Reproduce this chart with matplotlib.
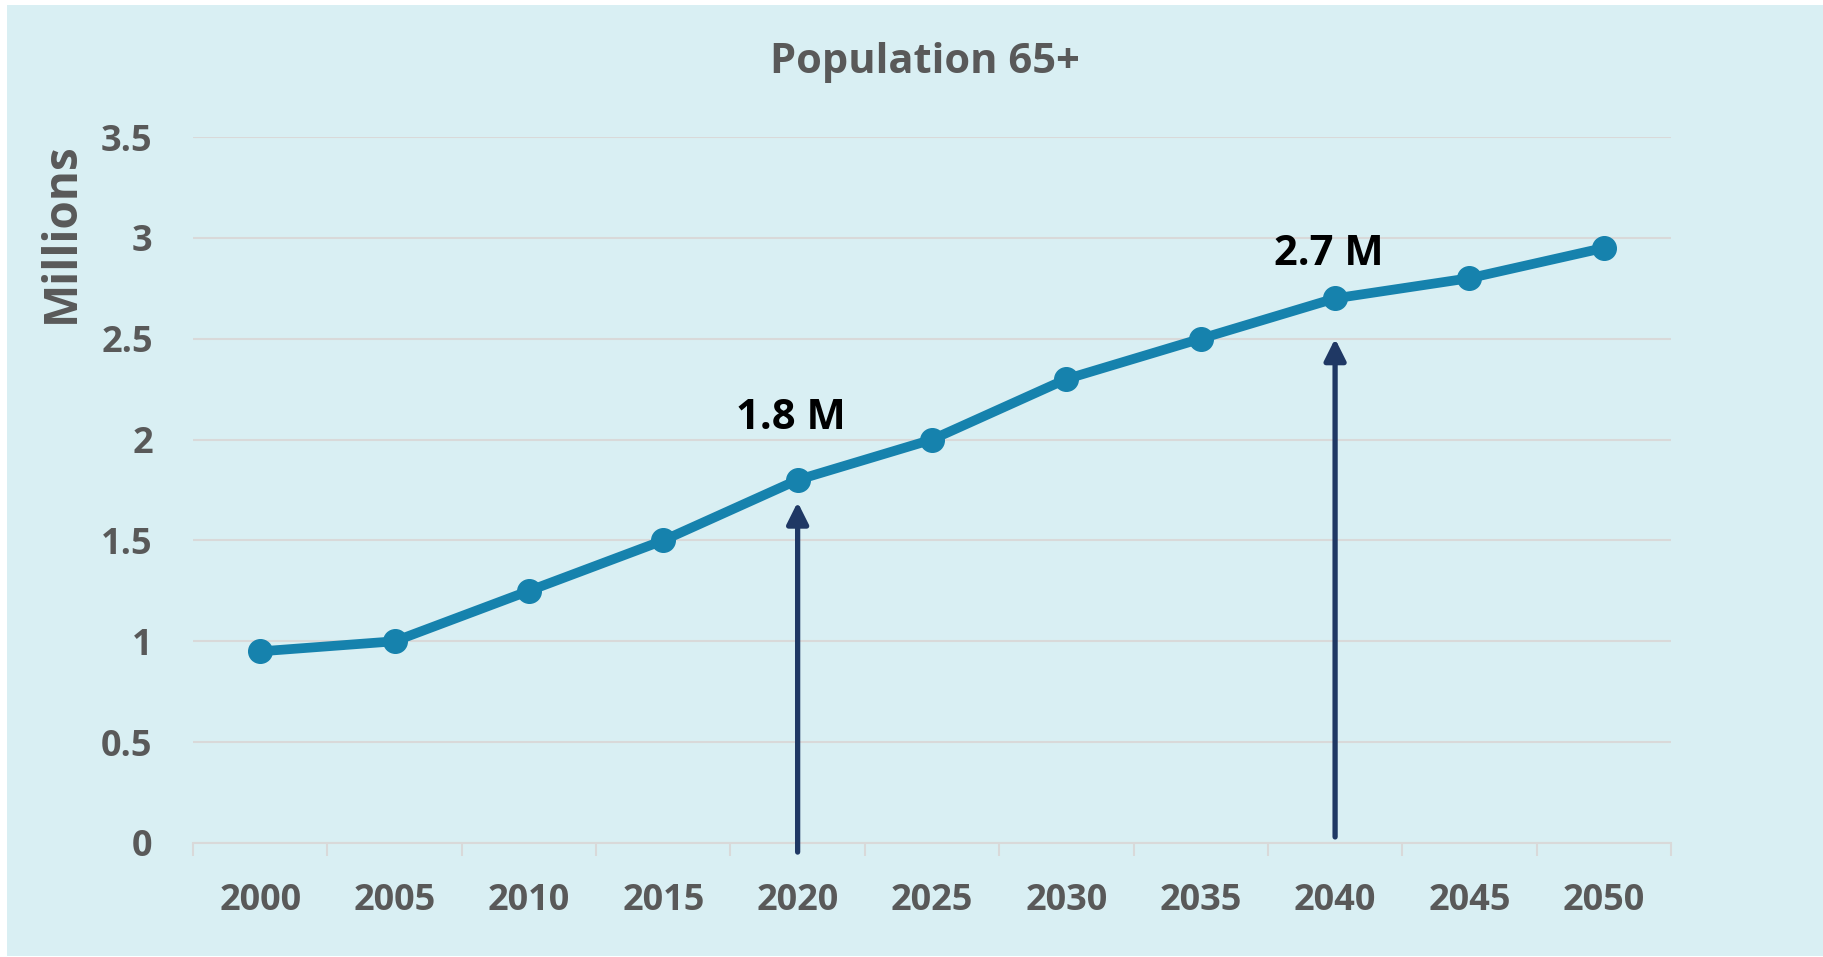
import matplotlib
matplotlib.use("Agg")
import matplotlib.pyplot as plt
from matplotlib.patches import Rectangle

years = ["2000", "2005", "2010", "2015", "2020", "2025", "2030", "2035", "2040", "2045", "2050"]
population = [0.95, 1.0, 1.25, 1.5, 1.8, 2.0, 2.3, 2.5, 2.7, 2.8, 2.95]
yticks = [0, 0.5, 1, 1.5, 2, 2.5, 3, 3.5]
ytick_labels = ["0", "0.5", "1", "1.5", "2", "2.5", "3", "3.5"]
callouts = [("1.8 M", 4, 1.69, -0.045, 2.05), ("2.7 M", 8, 2.50, 0.03, 2.865)]

BG = "#D9EFF3"
LINE = "#1682AD"
GREY = "#595959"
GRID = "#D9D9D9"
ARROW = "#1F3864"
FONT = ["Open Sans", "DejaVu Sans"]

W, H = 1824, 957
fig = plt.figure(figsize=(W / 100, H / 100), dpi=100, facecolor="white")
fig.patches.append(Rectangle((7 / W, 1 / H), (W - 7) / W, (952 - 1) / H,
                             transform=fig.transFigure, facecolor=BG,
                             edgecolor="none", zorder=-10))

ax = fig.add_axes([193 / W, (H - 843) / H, (1671 - 193) / W, (843 - 137) / H])
ax.set_facecolor("none")
x = list(range(len(years)))
ax.plot(x, population, color=LINE, lw=7, marker="o", markersize=17,
        solid_joinstyle="round", zorder=3, clip_on=False)

ax.set_xlim(-0.5, len(years) - 0.5)
ax.set_ylim(0, 3.5)
ax.set_yticks(yticks)
ax.set_yticklabels(ytick_labels)
ax.set_xticks(x)
ax.set_xticklabels(years)
ax.set_xticks([i - 0.5 for i in range(len(years) + 1)], minor=True)
ax.tick_params(axis="x", which="major", length=0, pad=29, labelsize=26, labelcolor=GREY)
ax.tick_params(axis="x", which="minor", length=9.5, width=1.5, color=GRID, direction="out")
ax.tick_params(axis="y", which="major", length=0, pad=29, labelsize=26, labelcolor=GREY)
for lab in ax.get_xticklabels() + ax.get_yticklabels():
    lab.set_family(FONT)
    lab.set_fontweight("bold")

ax.grid(axis="y", color=GRID, lw=1.5, zorder=0)
ax.set_axisbelow(True)
for s in ["top", "right", "left"]:
    ax.spines[s].set_visible(False)
ax.spines["bottom"].set_color(GRID)
ax.spines["bottom"].set_linewidth(1.5)

for text, xi, tip, base, ty in callouts:
    ax.annotate("", xy=(xi, tip), xytext=(xi, base),
                arrowprops=dict(arrowstyle="-|>,head_length=1.0,head_width=0.5",
                                mutation_scale=13, color=ARROW, lw=3.8,
                                shrinkA=0, shrinkB=0), annotation_clip=False)
    ax.text(xi - 0.05, ty, text, ha="center", va="baseline", fontsize=30,
            fontweight="bold", color="black", family=FONT)

fig.text(925 / W, 1 - 73 / H, "Population 65+", ha="center", va="baseline",
         fontsize=30, fontweight="bold", color=GREY, family=FONT)
fig.text(61 / W, 1 - 233 / H, "Millions", rotation=90, ha="center", va="center",
         fontsize=33, fontweight="bold", color=GREY, family=FONT)

fig.savefig("out.png", dpi=100, facecolor=fig.get_facecolor())
